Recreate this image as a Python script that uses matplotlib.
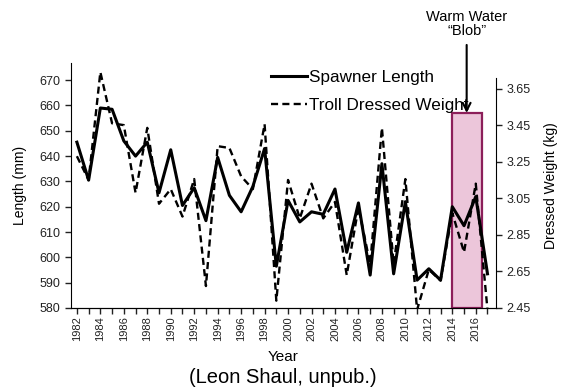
import matplotlib.pyplot as plt
import numpy as np

plt.rcParams['font.family'] = ['Liberation Sans', 'DejaVu Sans']

years = list(range(1982, 2018))
spawner_length = [645.5, 630.5, 659, 658.5, 646, 640, 645.5, 625.5, 642.5, 620.5,
                  627.5, 614.5, 639.5, 624.5, 618, 628, 643, 596.5, 622.5, 614,
                  618, 617, 627, 602, 621.5, 593, 637, 593.5, 622, 591,
                  595.5, 591, 620, 612.5, 624, 593.5]
troll_weight = [3.28, 3.15, 3.74, 3.46, 3.45, 3.08, 3.435, 3.02, 3.10, 2.95,
                3.155, 2.57, 3.335, 3.325, 3.17, 3.10, 3.455, 2.49, 3.15, 2.94,
                3.13, 2.94, 3.03, 2.63, 3.00, 2.69, 3.435, 2.69, 3.155, 2.44,
                2.66, 2.60, 2.97, 2.755, 3.13, 2.44]

len_ticks = list(range(580, 671, 10))
wt_ticks = [2.45, 2.65, 2.85, 3.05, 3.25, 3.45, 3.65]
blob_span = (2013.95, 2016.5)

fig = plt.figure(figsize=(5.61, 3.91), dpi=100)
ax = fig.add_axes([0.1266, 0.2123, 0.757, 0.6267])
ax2 = ax.twinx()

ax.axvspan(blob_span[0], blob_span[1], ymin=0, ymax=0.796,
           facecolor='#ecc6da', edgecolor='#8c1f5a', lw=1.6, zorder=0)

l1, = ax.plot(years, spawner_length, color='black', lw=2.2, label='Spawner Length')
l2, = ax2.plot(years, troll_weight, color='black', lw=1.7, ls=(0, (3.0, 1.8)),
               label='Troll Dressed Weight')

ax.set_xlim(1981.5, 2017.7)
ax.set_ylim(580, 676.8)
ax2.set_ylim(2.45, 3.79)

ax.set_yticks(len_ticks)
ax2.set_yticks(wt_ticks)
ax2.set_yticklabels(['%.2f' % v for v in wt_ticks])
ax.set_xticks(years)
ax.set_xticklabels([str(y) if y % 2 == 0 else '' for y in years], rotation=90)

for a in (ax, ax2):
    a.spines['top'].set_visible(False)
    a.tick_params(direction='out', length=4, width=1, labelsize=9, colors='#222222')
ax.tick_params(axis='x', labelsize=8, pad=2)
ax2.spines['right'].set_bounds(2.45, 3.71)
ax2.spines['left'].set_visible(False)
ax.spines['right'].set_visible(False)

ax.set_ylabel('Length (mm)', fontsize=10, labelpad=9)
ax2.set_ylabel('Dressed Weight (kg)', fontsize=10, labelpad=10)
ax.set_xlabel('Year', fontsize=11, labelpad=6)

ax2.legend(handles=[l1, l2], loc='upper left', bbox_to_anchor=(0.455, 1.0),
           frameon=False, fontsize=12.3, handlelength=2.1, handletextpad=0.1,
           labelspacing=0.75, borderaxespad=0)

blob_mid = (blob_span[0] + blob_span[1]) / 2
ax.annotate('Warm Water\n\u201cBlob\u201d', xy=(blob_mid, 0.796),
            xycoords=('data', 'axes fraction'),
            xytext=(blob_mid, 391 - 38), textcoords=('data', 'figure pixels'),
            ha='center', va='bottom', fontsize=10.5, linespacing=1.0,
            arrowprops=dict(arrowstyle='->', color='black', lw=1.5,
                            shrinkA=3, shrinkB=0, mutation_scale=14))

fig.text(0.505, 0.035, '(Leon Shaul, unpub.)', ha='center', va='center', fontsize=14.5)

fig.savefig('out.png', dpi=100)
